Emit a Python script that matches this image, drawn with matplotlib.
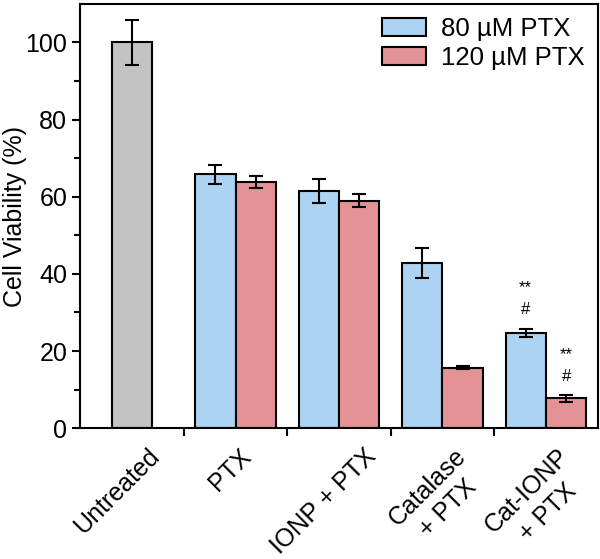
import matplotlib
matplotlib.use("Agg")
import matplotlib.pyplot as plt
import numpy as np
from matplotlib.transforms import ScaledTranslation, blended_transform_factory

plt.rcParams['font.family'] = ['Liberation Sans', 'DejaVu Sans']

categories = ["Untreated", "PTX", "IONP + PTX", "Catalase\n+ PTX", "Cat-IONP\n+ PTX"]
untreated_val = 100.0
untreated_err = 5.8
ptx80 = [65.8, 61.5, 42.8, 24.7]
ptx80_err = [2.4, 3.0, 3.9, 1.1]
ptx120 = [63.8, 59.0, 15.7, 7.7]
ptx120_err = [1.6, 1.6, 0.4, 1.0]
series_names = ["80 µM PTX", "120 µM PTX"]
sig_80 = ["", "", "", "**\n#"]
sig_120 = ["", "", "", "**\n#"]

c_gray = "#c3c3c3"
c_blue = "#acd3f1"
c_red = "#e39396"

fig = plt.figure(figsize=(6.0, 5.59), dpi=100)
ax = fig.add_axes([0.134, 0.234, 0.862, 0.759])

w = 0.39
fs = 18
ekw = dict(ecolor='black', elinewidth=1.5, capsize=5, capthick=1.5)
ax.bar(0, untreated_val, w, yerr=untreated_err, color=c_gray, edgecolor='black', linewidth=1.5, error_kw=ekw, zorder=2)
x = np.arange(1, 5)
ax.bar(x - w/2, ptx80, w, yerr=ptx80_err, color=c_blue, edgecolor='black', linewidth=1.5,
       error_kw=ekw, label=series_names[0], zorder=2)
ax.bar(x + w/2, ptx120, w, yerr=ptx120_err, color=c_red, edgecolor='black', linewidth=1.5,
       error_kw=ekw, label=series_names[1], zorder=2)

for xi, v, e, s in zip(x - w/2, ptx80, ptx80_err, sig_80):
    if s:
        ax.text(xi, v + e + 3.0, s, ha='center', va='bottom', fontsize=12, linespacing=1.6)
for xi, v, e, s in zip(x + w/2, ptx120, ptx120_err, sig_120):
    if s:
        ax.text(xi, v + e + 2.8, s, ha='center', va='bottom', fontsize=12, linespacing=1.6)

ax.set_xlim(-0.5, 4.5)
ax.set_ylim(0, 110)
ax.set_yticks([0, 20, 40, 60, 80, 100])
ax.set_yticks([10, 30, 50, 70, 90], minor=True)
ax.set_xticks(np.arange(0.5, 4.5, 1.0))
ax.set_xticklabels([])

# category labels (rotated), placed under each group centre
shifts = [15, 3, 25, 11, 11]
blend = blended_transform_factory(ax.transData, ax.transAxes)
for i, (cat, sh) in enumerate(zip(categories, shifts)):
    tr = blend + ScaledTranslation(sh / 100, -16 / 100, fig.dpi_scale_trans)
    ax.text(i, 0, cat, transform=tr, rotation=45, ha='right', va='top',
            rotation_mode='anchor', fontsize=fs, multialignment='center',
            linespacing=1.3, clip_on=False)

ax.tick_params(axis='x', which='major', direction='out', length=6, width=1.5)
ax.tick_params(axis='y', which='major', direction='out', length=6, width=1.5, labelsize=fs)
ax.tick_params(axis='y', which='minor', direction='out', length=4, width=1.5)
for sp in ax.spines.values():
    sp.set_linewidth(1.5)
ax.set_ylabel("Cell Viability (%)", fontsize=fs)
ax.yaxis.set_label_coords(-0.104, 0.5)

ax.legend(loc='upper right', fontsize=18.5, frameon=False, handlelength=1.7, handleheight=0.7,
          borderaxespad=0.3, borderpad=0.2, labelspacing=0.2, handletextpad=0.6)

fig.savefig("out.png", dpi=100)
